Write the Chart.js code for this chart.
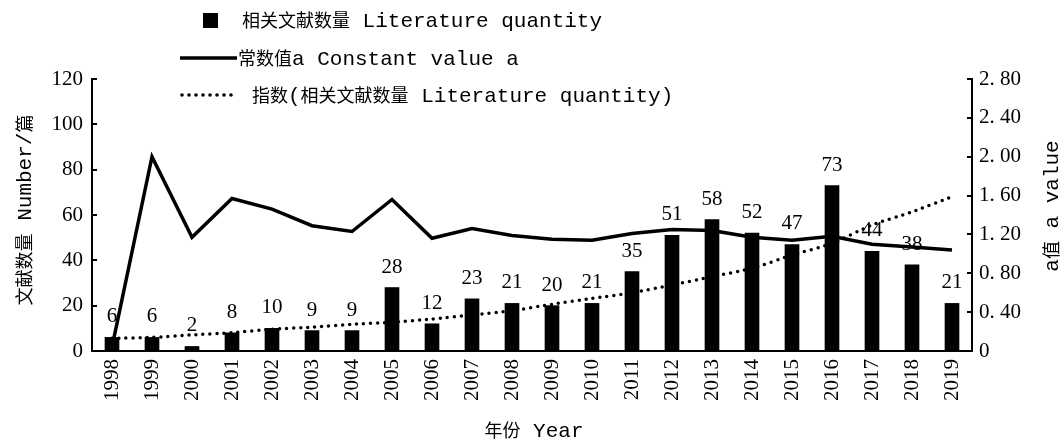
<!DOCTYPE html>
<html>
<head>
<meta charset="utf-8">
<script src="https://cdn.jsdelivr.net/npm/chart.js@4.4.1/dist/chart.umd.min.js"></script>
<style>
  body { margin: 0; background: #fff; }
</style>
</head>
<body>
<canvas id="chart" width="1064" height="443"></canvas>
<script>
const years = [
  "1998", "1999", "2000", "2001", "2002", "2003", "2004", "2005", "2006", "2007", "2008",
  "2009", "2010", "2011", "2012", "2013", "2014", "2015", "2016", "2017", "2018", "2019",
];
// 相关文献数量 Literature quantity (bars, left axis)
const literatureCounts = [6, 6, 2, 8, 10, 9, 9, 28, 12, 23, 21, 20, 21, 35, 51, 58, 52, 47, 73, 44, 38, 21];
// 常数值a (solid line, right axis)
const constantA = [
  0.04, 2.0, 1.17, 1.57, 1.46, 1.29, 1.23, 1.56, 1.16, 1.26, 1.19,
  1.15, 1.14, 1.21, 1.25, 1.24, 1.17, 1.14, 1.18, 1.1, 1.07, 1.04,
];
// 指数 trend line (left axis)
const trendCounts = [
  5.6, 6.0, 7.1, 8.1, 9.6, 10.5, 11.8, 12.7, 14.1, 15.9, 17.8,
  20.6, 23.2, 25.7, 29.1, 32.8, 36.5, 42.3, 47.5, 55.6, 61.4, 68.1,
];
const legendLabels = [
  "相关文献数量 Literature quantity",
  "常数值a Constant value a",
  "指数(相关文献数量 Literature quantity)",
];
const xTitle = "年份 Year";
const yTitle = "文献数量 Number/篇";
const y1Title = "a值 a value";

Chart.defaults.font.family = "'Liberation Serif', serif";
Chart.defaults.font.size = 21;
Chart.defaults.color = "#000";

// draw text that mixes CJK and latin runs, centred or left aligned at x
function drawMixed(ctx, text, x, y, align) {
  const runs = text.match(/[\u3000-\u9fff\uff00-\uffef]+|[^\u3000-\u9fff\uff00-\uffef]+/g);
  const fontFor = (r) =>
    /[\u3000-\u9fff\uff00-\uffef]/.test(r) ? "18px 'Noto Sans CJK SC'" : "21px 'Liberation Mono'";
  let total = 0;
  runs.forEach((r) => {
    ctx.font = fontFor(r);
    total += ctx.measureText(r).width;
  });
  let cx = align === "center" ? x - total / 2 : x;
  ctx.textAlign = "left";
  ctx.textBaseline = "alphabetic";
  runs.forEach((r) => {
    ctx.font = fontFor(r);
    ctx.fillText(r, cx, y + 7);
    cx += ctx.measureText(r).width;
  });
}

const decorations = {
  id: "decorations",
  afterDatasetsDraw(chart) {
    const ctx = chart.ctx;
    // values above bars
    const meta = chart.getDatasetMeta(2);
    ctx.save();
    ctx.fillStyle = "#000";
    ctx.font = "21px 'Liberation Serif'";
    ctx.textAlign = "center";
    ctx.textBaseline = "alphabetic";
    meta.data.forEach((bar, i) => {
      ctx.fillText(String(literatureCounts[i]), bar.x, bar.y - 15);
    });
    ctx.restore();
  },
  afterDraw(chart) {
    const ctx = chart.ctx;
    const { y, y1 } = chart.scales;
    const area = chart.chartArea;
    ctx.save();
    ctx.strokeStyle = "#000";
    ctx.fillStyle = "#000";
    ctx.lineWidth = 2;
    // inward tick marks
    y.ticks.forEach((t) => {
      const py = Math.round(y.getPixelForValue(t.value));
      ctx.beginPath();
      ctx.moveTo(area.left, py);
      ctx.lineTo(area.left + 5, py);
      ctx.stroke();
    });
    y1.ticks.forEach((t) => {
      const py = Math.round(y1.getPixelForValue(t.value));
      ctx.beginPath();
      ctx.moveTo(area.right, py);
      ctx.lineTo(area.right - 5, py);
      ctx.stroke();
    });

    // legend
    ctx.fillRect(203, 13, 15, 15);
    drawMixed(ctx, legendLabels[0], 242, 20, "left");
    ctx.lineWidth = 3.5;
    ctx.beginPath();
    ctx.moveTo(180, 58);
    ctx.lineTo(237, 58);
    ctx.stroke();
    drawMixed(ctx, legendLabels[1], 238, 58, "left");
    for (let dx = 182; dx <= 232; dx += 7) {
      ctx.beginPath();
      ctx.arc(dx, 95, 1.8, 0, Math.PI * 2);
      ctx.fill();
    }
    drawMixed(ctx, legendLabels[2], 252, 95, "left");

    // axis titles
    drawMixed(ctx, xTitle, 534, 430, "center");
    ctx.save();
    ctx.translate(24, 210);
    ctx.rotate(-Math.PI / 2);
    drawMixed(ctx, yTitle, 0, 0, "center");
    ctx.restore();
    ctx.save();
    ctx.translate(1051, 206);
    ctx.rotate(-Math.PI / 2);
    drawMixed(ctx, y1Title, 0, 0, "center");
    ctx.restore();
    ctx.restore();
  },
};

const axisBorder = { display: true, color: "#000", width: 2 };

let config = {
  type: "bar",
  data: {
    labels: years,
    datasets: [
      {
        type: "line",
        label: legendLabels[1],
        data: constantA,
        yAxisID: "y1",
        borderColor: "#000",
        borderWidth: 3.5,
        pointRadius: 0,
        tension: 0,
        order: 1,
      },
      {
        type: "line",
        label: legendLabels[2],
        data: trendCounts,
        yAxisID: "y",
        borderColor: "#000",
        borderWidth: 3.5,
        borderDash: [0, 7],
        borderCapStyle: "round",
        pointRadius: 0,
        tension: 0.2,
        order: 2,
      },
      {
        type: "bar",
        label: legendLabels[0],
        data: literatureCounts,
        yAxisID: "y",
        backgroundColor: "#000",
        barThickness: 14,
        order: 3,
      },
    ],
  },
  options: {
    responsive: false,
    animation: false,
    layout: { padding: { top: 79, left: 0, right: 0, bottom: 0 } },
    scales: {
      x: {
        offset: true,
        grid: { display: true, drawOnChartArea: false, drawTicks: false },
        border: axisBorder,
        ticks: { minRotation: 90, maxRotation: 90, autoSkip: false, padding: 8 },
        afterFit: function (scale) {
          scale.height = 92;
        },
      },
      y: {
        position: "left",
        min: 0,
        max: 120,
        grid: { display: true, drawOnChartArea: false, drawTicks: false },
        border: axisBorder,
        ticks: { stepSize: 20, padding: 9 },
        afterFit: function (scale) {
          scale.width = 92;
        },
      },
      y1: {
        position: "right",
        min: 0,
        max: 2.8,
        grid: { display: true, drawOnChartArea: false, drawTicks: false },
        border: axisBorder,
        ticks: {
          stepSize: 0.4,
          padding: 7,
          callback: function (value) {
            // 2. 80 style, plain 0 at the bottom
            if (value === 0) return "0";
            return value.toFixed(2).replace(".", ". ");
          },
        },
        afterFit: function (scale) {
          scale.width = 92;
        },
      },
    },
    plugins: {
      legend: { display: false },
      tooltip: { enabled: false },
    },
  },
  plugins: [decorations],
};
const comboChart = new Chart(document.getElementById("chart"), config);
</script>
</body>
</html>
